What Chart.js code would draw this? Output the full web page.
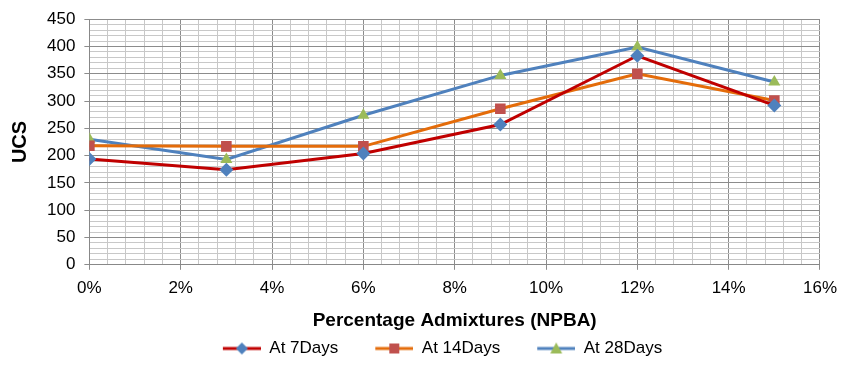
<!DOCTYPE html>
<html>
<head>
<meta charset="utf-8">
<script src="https://cdn.jsdelivr.net/npm/chart.js@4/dist/chart.umd.min.js"></script>
<style>
  html, body { margin: 0; padding: 0; background: #fff; }
  #wrap { width: 845px; height: 367px; }
</style>
</head>
<body>
<div id="wrap"><canvas id="chart1" width="845" height="367"></canvas></div>
<script>
        // Data
        const admixture = [0, 3, 6, 9, 12, 15];          // percent
        const days7 = [194, 174, 204, 257, 383, 292];
        const days14 = [218, 217, 217, 286, 350, 301];
        const days28 = [230, 193, 274, 347, 399, 335];
        const seriesNames = ['At 7Days', 'At 14Days', 'At 28Days'];

        const FONT = "'Liberation Sans', Arial, sans-serif";
        const ICON_GAP = 32;   // blank space left of each legend icon

        function toPoints(values) {
            return values.map((v, i) => ({ x: admixture[i], y: v }));
        }

        function legendIcon(lineColor, markerColor, shape) {   // line with marker, for the legend
            const c = document.createElement('canvas');
            c.width = 38 + ICON_GAP;
            c.height = 14;
            const g = c.getContext('2d');
            g.translate(ICON_GAP, 0);
            g.strokeStyle = lineColor;
            g.lineWidth = 3;
            g.beginPath();
            g.moveTo(0, 7);
            g.lineTo(38, 7);
            g.stroke();
            g.fillStyle = markerColor;
            g.beginPath();
            if (shape === 'rectRot') {
                g.moveTo(19, 1); g.lineTo(25, 7); g.lineTo(19, 13); g.lineTo(13, 7);
            } else if (shape === 'rect') {
                g.rect(14, 2, 10, 10);
            } else {
                g.moveTo(19, 1); g.lineTo(25, 12); g.lineTo(13, 12);
            }
            g.closePath();
            g.fill();
            return c;
        }

        const lineColors = ['#C00000', '#E46C0A', '#4F81BD'];
        const markerColors = ['#4F81BD', '#C0504D', '#9BBB59'];
        const shapes = ['rectRot', 'rect', 'triangle'];
        const icons = lineColors.map((c, i) => legendIcon(c, markerColors[i], shapes[i]));

        const datasets = [days7, days14, days28].map((vals, i) => ({
            label: seriesNames[i],
            data: toPoints(vals),
            borderColor: lineColors[i],
            backgroundColor: markerColors[i],
            borderWidth: 3,
            pointStyle: shapes[i],
            pointRadius: shapes[i] === 'rect' ? 7.5 : 7,
            pointBorderWidth: 0,
            pointBackgroundColor: markerColors[i],
            tension: 0
        }));

        const isMultiple = (v, step) => Math.abs(v / step - Math.round(v / step)) < 1e-6;

        new Chart(document.getElementById('chart1').getContext('2d'), {
            type: 'line',
            data: { datasets: datasets },
            options: {
                responsive: false,
                animation: false,
                layout: { padding: { left: 8, right: 0, top: 8, bottom: 0 } },
                plugins: {
                    tooltip: { enabled: false },
                    legend: {
                        position: 'bottom',
                        labels: {
                            usePointStyle: true,
                            pointStyleWidth: 38 + ICON_GAP,
                            padding: 5,
                            color: '#000',
                            font: { family: FONT, size: 17 },
                            generateLabels: (chart) => seriesNames.map((name, i) => ({
                                text: name,
                                pointStyle: icons[i],
                                datasetIndex: i,
                                fontColor: '#000',
                                lineWidth: 0,
                                strokeStyle: 'transparent',
                                fillStyle: 'transparent'
                            }))
                        }
                    }
                },
                scales: {
                    x: {
                        type: 'linear',
                        min: 0,
                        max: 16,
                        border: { color: '#888', width: 1 },
                        ticks: {
                            stepSize: 0.4,
                            autoSkip: false,
                            maxRotation: 0,
                            color: '#000',
                            font: { family: FONT, size: 17 },
                            padding: 8,
                            callback: (v) => isMultiple(v, 2) ? Math.round(v) + '%' : ''
                        },
                        grid: {
                            color: (ctx) => isMultiple(ctx.tick.value, 2) ? '#8C8C8C' : '#C8C8C8',
                            tickColor: (ctx) => isMultiple(ctx.tick.value, 2) ? '#8C8C8C' : 'transparent',
                            tickLength: 5,
                            lineWidth: 1
                        },
                        title: {
                            display: true,
                            text: 'Percentage Admixtures (NPBA)',
                            color: '#000',
                            font: { family: FONT, size: 19, weight: 'bold' },
                            padding: { top: 3, bottom: 3 }
                        }
                    },
                    y: {
                        min: 0,
                        max: 450,
                        border: { color: '#888', width: 1 },
                        ticks: {
                            stepSize: 10,
                            autoSkip: false,
                            color: '#000',
                            font: { family: FONT, size: 17 },
                            padding: 9,
                            callback: (v) => isMultiple(v, 50) ? v : ''
                        },
                        grid: {
                            color: (ctx) => isMultiple(ctx.tick.value, 50) ? '#8C8C8C' : '#C8C8C8',
                            tickColor: (ctx) => isMultiple(ctx.tick.value, 50) ? '#8C8C8C' : 'transparent',
                            tickLength: 5,
                            lineWidth: 1
                        },
                        title: {
                            display: true,
                            text: 'UCS',
                            color: '#000',
                            font: { family: FONT, size: 20, weight: 'bold' },
                            padding: { top: 0, bottom: 6 }
                        }
                    }
                }
            }
        });
</script>
</body>
</html>
